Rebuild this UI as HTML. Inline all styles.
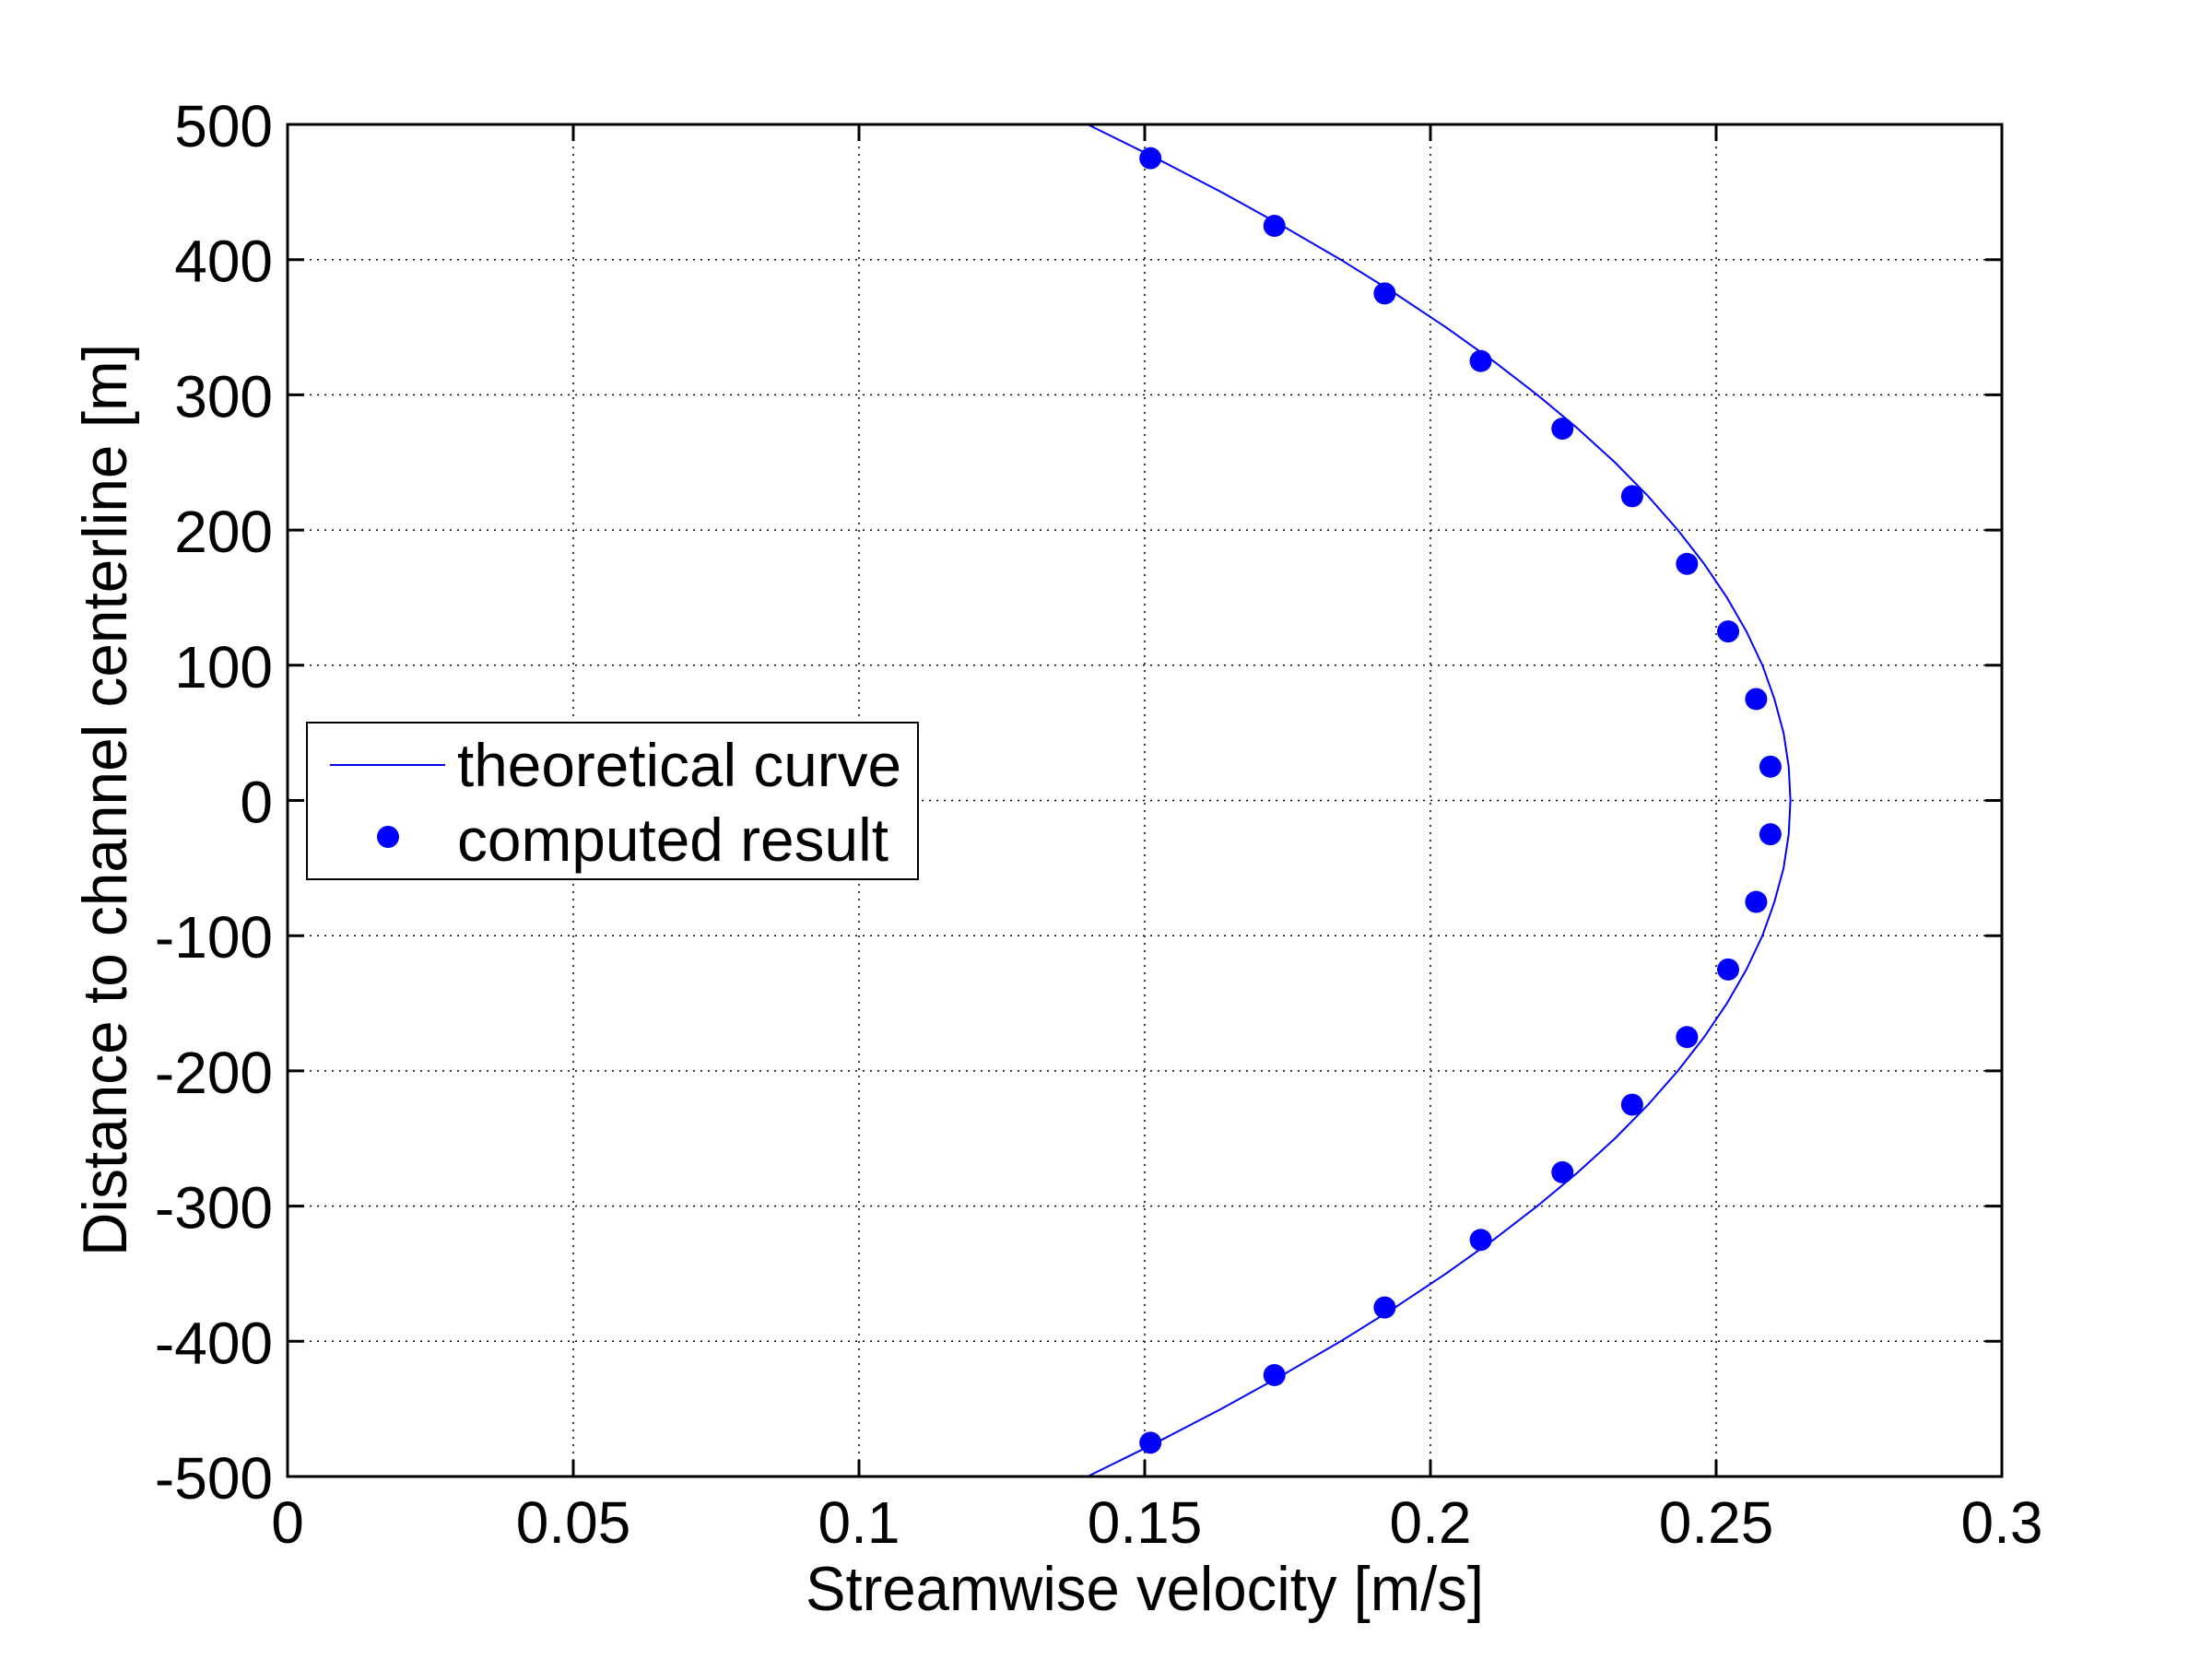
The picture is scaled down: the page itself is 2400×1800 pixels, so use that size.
<!DOCTYPE html>
<html><head><meta charset="utf-8"><style>
html,body{margin:0;padding:0;background:#fff;}
svg{display:block;font-family:"Liberation Sans",Arial,sans-serif;}
</style></head><body>
<svg id="chart" width="2400" height="1800" viewBox="0 0 2400 1800" xmlns="http://www.w3.org/2000/svg">
<rect width="2400" height="1800" fill="#fff"/>
<g id="grid"></g>
<g id="curve"></g>
<g id="points"></g>
<rect x="312" y="135" width="1860" height="1467" fill="none" stroke="#000" stroke-width="3"/>
<g id="ticks"></g>
<g id="xlabels" font-size="64" text-anchor="middle"></g>
<g id="ylabels" font-size="64" text-anchor="end"></g>
<text x="1242" y="1747" font-size="68" text-anchor="middle" textLength="736" lengthAdjust="spacingAndGlyphs">Streamwise velocity [m/s]</text>
<text transform="translate(137,868) rotate(-90)" font-size="68" text-anchor="middle" textLength="990" lengthAdjust="spacingAndGlyphs">Distance to channel centerline [m]</text>
<g>
<rect x="333" y="784" width="663" height="170" fill="#fff" stroke="#000" stroke-width="2"/>
<line x1="358" y1="830" x2="483" y2="830" stroke="#0000ff" stroke-width="2"/>
<text x="496" y="853" font-size="66" textLength="482" lengthAdjust="spacingAndGlyphs">theoretical curve</text>
<circle cx="421" cy="908" r="12" fill="#0000ff"/>
<text x="496" y="934" font-size="66" textLength="468" lengthAdjust="spacingAndGlyphs">computed result</text>
</g>
</svg>
<script>
const xTicks = [0, 0.05, 0.1, 0.15, 0.2, 0.25, 0.3];
const xTickLabels = ["0", "0.05", "0.1", "0.15", "0.2", "0.25", "0.3"];
const yTicks = [500, 400, 300, 200, 100, 0, -100, -200, -300, -400, -500];
const yTickLabels = ["500", "400", "300", "200", "100", "0", "-100", "-200", "-300", "-400", "-500"];
const curveY = [500, 475, 450, 425, 400, 375, 350, 325, 300, 275, 250, 225, 200, 175, 150, 125, 100, 75, 50, 25, 0, -25, -50, -75, -100, -125, -150, -175, -200, -225, -250, -275, -300, -325, -350, -375, -400, -425, -450, -475, -500];
const curveX = [0.140, 0.1520, 0.1634, 0.1741, 0.1843, 0.1938, 0.2027, 0.2110, 0.2187, 0.2258, 0.2323, 0.2381, 0.2433, 0.2479, 0.2519, 0.2553, 0.2581, 0.2602, 0.2618, 0.2627, 0.263, 0.2627, 0.2618, 0.2602, 0.2581, 0.2553, 0.2519, 0.2479, 0.2433, 0.2381, 0.2323, 0.2258, 0.2187, 0.2110, 0.2027, 0.1938, 0.1843, 0.1741, 0.1634, 0.1520, 0.140];
const pointY = [475, 425, 375, 325, 275, 225, 175, 125, 75, 25, -25, -75, -125, -175, -225, -275, -325, -375, -425, -475];
const pointX = [0.151, 0.1727, 0.192, 0.2088, 0.2231, 0.2353, 0.2449, 0.2521, 0.257, 0.2595, 0.2595, 0.257, 0.2521, 0.2449, 0.2353, 0.2231, 0.2088, 0.192, 0.1727, 0.151];

const L = 312, R = 2172, T = 135, B = 1602;
const sx = v => L + (v - 0) / 0.3 * (R - L);
const sy = v => B - (v + 500) / 1000 * (B - T);
const NS = "http://www.w3.org/2000/svg";
function mk(tag, attrs, parent) {
  const e = document.createElementNS(NS, tag);
  for (const k in attrs) e.setAttribute(k, attrs[k]);
  parent.appendChild(e);
  return e;
}
const grid = document.getElementById('grid');
const ticks = document.getElementById('ticks');
const xl = document.getElementById('xlabels');
const yl = document.getElementById('ylabels');

xTicks.forEach((v, i) => {
  const x = sx(v);
  if (i > 0 && i < xTicks.length - 1) {
    const g = mk('line', {x1: x, y1: T, x2: x, y2: B, stroke: '#000', 'stroke-width': 1.5, 'stroke-dasharray': '2 6'}, grid);
    
    
  }
  const t1 = mk('line', {x1: x, y1: B, x2: x, y2: B - 18, stroke: '#000', 'stroke-width': 3}, ticks);
  
  
  const t2 = mk('line', {x1: x, y1: T, x2: x, y2: T + 18, stroke: '#000', 'stroke-width': 3}, ticks);
  
  
  const lb = mk('text', {x: x, y: 1674}, xl);
  lb.textContent = xTickLabels[i];
  
  
});

yTicks.forEach((v, i) => {
  const y = sy(v);
  if (i > 0 && i < yTicks.length - 1) {
    const g = mk('line', {x1: L, y1: y, x2: R, y2: y, stroke: '#000', 'stroke-width': 1.5, 'stroke-dasharray': '2 6'}, grid);
    
    
  }
  const t1 = mk('line', {x1: L, y1: y, x2: L + 18, y2: y, stroke: '#000', 'stroke-width': 3}, ticks);
  
  
  const t2 = mk('line', {x1: R, y1: y, x2: R - 18, y2: y, stroke: '#000', 'stroke-width': 3}, ticks);
  
  
  const lb = mk('text', {x: 296, y: y + 24}, yl);
  lb.textContent = yTickLabels[i];
  
  
});

const pts = curveX.map((v, i) => sx(v) + ',' + sy(curveY[i])).join(' ');
const pl = mk('polyline', {points: pts, fill: 'none', stroke: '#0000ff', 'stroke-width': 2, 'stroke-linejoin': 'round'}, document.getElementById('curve'));



const pg = document.getElementById('points');
pointX.forEach((v, i) => {
  const c = mk('circle', {cx: sx(v), cy: sy(pointY[i]), r: 12, fill: '#0000ff'}, pg);
  
  
});
</script>
</body></html>
